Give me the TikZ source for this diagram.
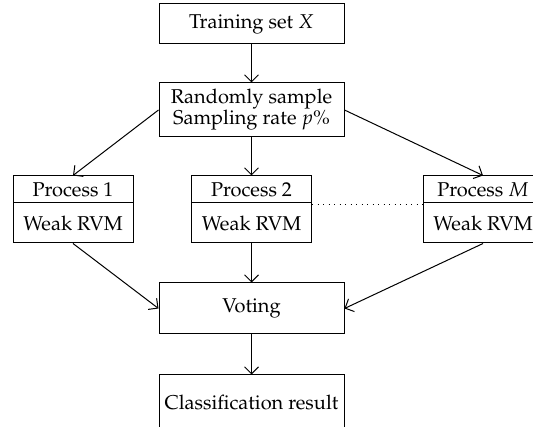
\documentclass[tikz,border=0pt]{standalone}
\usepackage[T1]{fontenc}
\usepackage{mathpazo}
\usetikzlibrary{arrows.meta}
\tikzset{
  box/.style={draw, line width=1pt, inner sep=0pt, anchor=center, font=\fontsize{20}{22}\selectfont, align=center},
  conn/.style={line width=1pt, -{Straight Barb[length=7pt,width=14pt,line width=1pt]}},
  dots/.style={line width=1pt, dash pattern=on 1pt off 4.5pt}
}
\begin{document}
\begin{tikzpicture}[x=1pt,y=-1pt]
\useasboundingbox (0,0) rectangle (533,427);
\clip (0,0) rectangle (533,427);
\node[box, minimum width=185pt, minimum height=40pt] (train) at (251.5,24) {Training set $X$};
\node[box, minimum width=185pt, minimum height=54pt] (samp) at (251.5,110) {Randomly sample\\[-1pt]Sampling rate $p$\%};
\node[box, minimum width=120pt, minimum height=27pt] (p1t) at (73,189.5) {Process 1};
\node[box, minimum width=120pt, minimum height=40pt] (p1b) at (73,223) {Weak RVM};
\node[box, minimum width=120pt, minimum height=27pt] (p2t) at (251.5,189.5) {Process 2};
\node[box, minimum width=120pt, minimum height=40pt] (p2b) at (251.5,223) {Weak RVM};
\node[box, minimum width=120pt, minimum height=27pt] (pMt) at (483,189.5) {Process $M$};
\node[box, minimum width=120pt, minimum height=40pt] (pMb) at (483,223) {Weak RVM};
\node[box, minimum width=185pt, minimum height=51pt] (vote) at (251.5,308.5) {Voting};
\node[box, minimum width=185pt, minimum height=54pt] (cls) at (251.5,402) {Classification result};
\draw[conn] (train) -- (samp);
\draw[conn] (samp.west) -- (p1t.north);
\draw[conn] (samp) -- (p2t);
\draw[conn] (samp.east) -- (pMt.north);
\draw[conn] (p1b.south) -- (vote.west);
\draw[conn] (p2b) -- (vote);
\draw[conn] (pMb.south) -- (vote.east);
\draw[conn] (vote) -- (cls);
\coordinate (dl) at ([yshift=-2pt]p2b.north east);
\coordinate (dr) at ([yshift=-2pt]pMb.north west);
\draw[dots] (dl) -- (dr);
\end{tikzpicture}
\end{document}
